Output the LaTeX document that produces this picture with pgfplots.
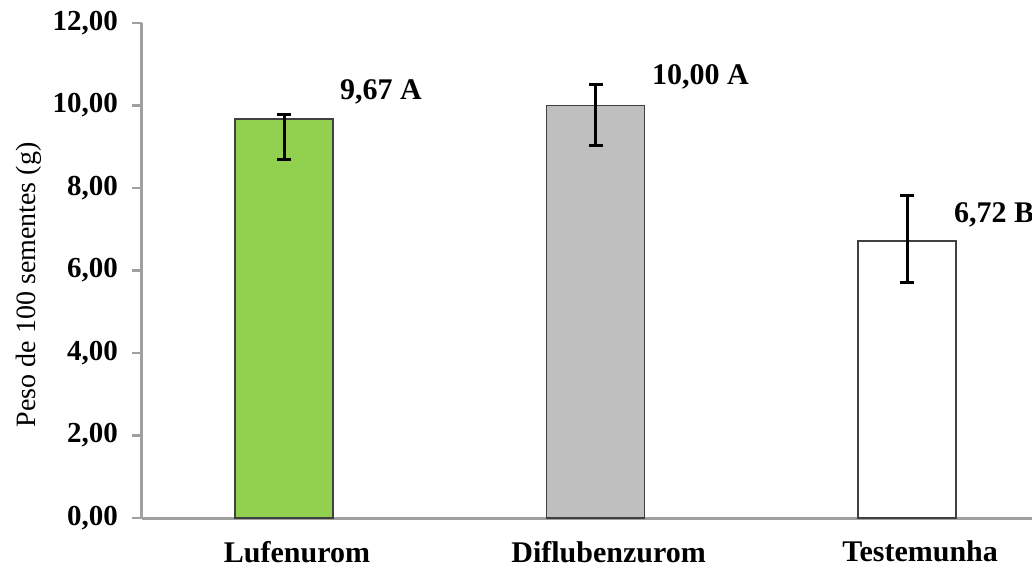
\documentclass[border=0pt]{standalone}
\usepackage{fontspec}
\setmainfont{Liberation Serif}
\usepackage{pgfplots}
\pgfplotsset{compat=1.18}
\definecolor{barGreen}{RGB}{146,208,80}
\definecolor{barGray}{RGB}{191,191,191}
\definecolor{axGray}{RGB}{160,160,160}
\begin{document}
\begin{tikzpicture}
\begin{axis}[name=ax, width=445pt, height=247.5pt, scale only axis,
  xmin=-0.456, xmax=2.401, ymin=0, ymax=12,
  clip=false,
  axis x line=bottom, axis y line=left,
  axis line style={-, draw=axGray, line width=1.5pt},
  xtick={0,1,2}, xticklabels={Lufenurom,Diflubenzurom,Testemunha},
  x tick style={draw=none},
  ytick={0,2,...,12}, tick align=outside, major tick length=5pt,
  y tick style={draw=axGray, line width=1.2pt},
  /pgf/number format/.cd, fixed, fixed zerofill, precision=2, use comma, assume math mode=true, /pgfplots/.cd,
  yticklabel style={font=\fontsize{14.5}{16}\selectfont\bfseries, xshift=-3.5pt},
  xticklabel style={font=\fontsize{15}{17}\selectfont\bfseries, xshift=6.5pt, yshift=-3pt},
  ylabel={Peso de 100 sementes (g)},
  ylabel style={at={(axis description cs:-0.127,0.471)}, anchor=center, font=\fontsize{14}{16}\selectfont},
  error bars/error bar style={line width=1.5pt, black},
  error bars/error mark options={rotate=90, mark size=3.5pt, line width=1.5pt, black},
]
\addplot[ybar, bar shift=0pt, bar width=0.315, fill=barGreen, draw=black!75, line width=0.7pt,
  error bars/.cd, y dir=both, y explicit]
  coordinates {(0,9.67) += (0,0.12) -= (0,0.99)};
\addplot[ybar, bar shift=0pt, bar width=0.315, fill=barGray, draw=black!75, line width=0.7pt,
  error bars/.cd, y dir=both, y explicit]
  coordinates {(1,10.00) += (0,0.52) -= (0,0.96)};
\addplot[ybar, bar shift=0pt, bar width=0.315, fill=white, draw=black!75, line width=0.7pt,
  error bars/.cd, y dir=both, y explicit]
  coordinates {(2,6.72) += (0,1.10) -= (0,1.00)};
\node[anchor=west, font=\fontsize{15}{17}\selectfont\bfseries] at (axis cs:0.157,10.33) {9,67 A};
\node[anchor=west, font=\fontsize{15}{17}\selectfont\bfseries] at (axis cs:1.159,10.69) {10,00 A};
\node[anchor=west, font=\fontsize{15}{17}\selectfont\bfseries] at (axis cs:2.128,7.35) {6,72 B};
\end{axis}
\pgfresetboundingbox
\path[use as bounding box] ([xshift=-71pt,yshift=-26pt]ax.south west) rectangle ([yshift=11.5pt]ax.north east);
\end{tikzpicture}
\end{document}
